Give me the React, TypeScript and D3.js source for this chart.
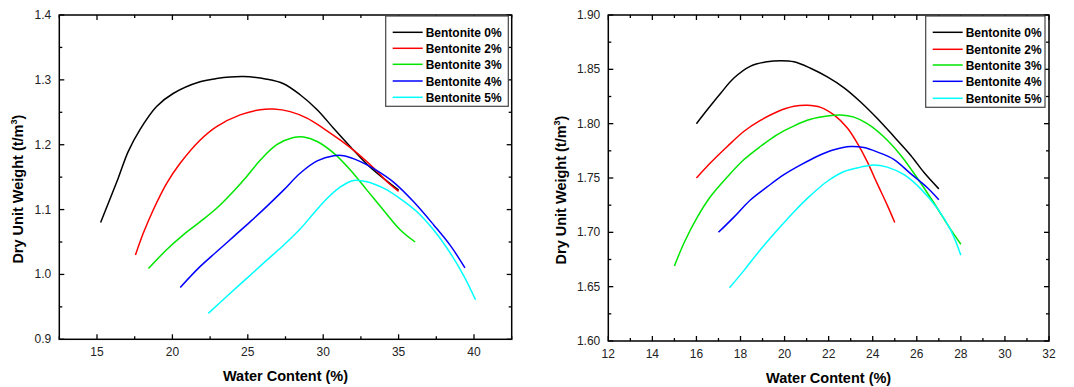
import * as d3 from "d3";
import React from "react";

const seriesNames = ["Bentonite 0%", "Bentonite 2%", "Bentonite 3%", "Bentonite 4%", "Bentonite 5%"];
const seriesColors = ["#000000", "#ff0000", "#00e600", "#0000ff", "#00ffff"];

// left panel: water content (%) / dry unit weight (t/m3)
const leftW0 = [15.24, 16.4, 17.06, 17.84, 18.95, 20.05, 21.83, 22.93, 24.7, 26.26, 27.37, 28.47, 29.6, 30.7, 31.8, 32.9, 34.0, 35.0];
const leftD0 = [1.080, 1.148, 1.189, 1.223, 1.259, 1.279, 1.297, 1.302, 1.305, 1.301, 1.294, 1.277, 1.254, 1.225, 1.197, 1.170, 1.148, 1.130];
const leftW2 = [17.55, 18.06, 18.72, 19.61, 20.5, 21.83, 22.93, 24.49, 25.82, 26.7, 27.81, 28.92, 30.03, 31.14, 32.25, 33.35, 34.24, 35.0];
const leftD2 = [1.030, 1.063, 1.099, 1.140, 1.171, 1.207, 1.228, 1.246, 1.254, 1.255, 1.251, 1.241, 1.225, 1.207, 1.187, 1.164, 1.143, 1.128];
const leftW3 = [18.41, 19.61, 20.72, 21.83, 22.93, 24.04, 24.93, 25.82, 26.92, 28.03, 28.7, 29.6, 30.7, 31.8, 32.9, 34.0, 35.1, 36.1];
const leftD3 = [1.009, 1.038, 1.061, 1.081, 1.102, 1.128, 1.151, 1.176, 1.200, 1.211, 1.212, 1.205, 1.187, 1.161, 1.130, 1.099, 1.069, 1.050];
const leftW4 = [20.52, 21.83, 22.93, 24.04, 25.15, 26.26, 27.37, 28.47, 29.6, 30.7, 31.36, 32.47, 33.57, 34.68, 36.0, 37.34, 38.45, 39.4];
const leftD4 = [0.980, 1.012, 1.035, 1.058, 1.081, 1.105, 1.130, 1.156, 1.175, 1.183, 1.183, 1.174, 1.160, 1.142, 1.112, 1.076, 1.044, 1.010];
const leftW5 = [22.38, 23.6, 24.93, 26.26, 27.37, 28.47, 29.36, 30.25, 31.14, 32.0, 32.9, 34.0, 35.1, 36.2, 37.34, 38.45, 39.34, 40.1];
const leftD5 = [0.940, 0.966, 0.994, 1.022, 1.045, 1.070, 1.094, 1.117, 1.135, 1.145, 1.143, 1.133, 1.117, 1.097, 1.068, 1.032, 0.997, 0.961];

// right panel
const rightW0 = [16.0, 16.5, 17.1, 17.7, 18.46, 19.2, 19.82, 20.43, 21.18, 21.94, 22.7, 23.45, 24.2, 24.97, 25.72, 26.33, 27.0];
const rightD0 = [1.800, 1.813, 1.828, 1.842, 1.853, 1.857, 1.858, 1.857, 1.851, 1.843, 1.833, 1.820, 1.805, 1.788, 1.771, 1.755, 1.740];
const rightW2 = [16.0, 16.64, 17.4, 18.16, 18.9, 19.67, 20.43, 21.03, 21.64, 22.24, 22.85, 23.3, 23.75, 24.2, 24.66, 25.0];
const rightD2 = [1.750, 1.764, 1.779, 1.793, 1.803, 1.811, 1.816, 1.817, 1.815, 1.808, 1.796, 1.782, 1.765, 1.745, 1.725, 1.709];
const rightW3 = [15.0, 15.43, 16.04, 16.64, 17.4, 18.16, 18.9, 19.67, 20.43, 21.18, 21.94, 22.55, 23.15, 23.75, 24.5, 25.27, 26.02, 26.78, 27.46, 28.0];
const rightD3 = [1.669, 1.690, 1.714, 1.733, 1.751, 1.767, 1.779, 1.790, 1.798, 1.804, 1.807, 1.808, 1.806, 1.800, 1.788, 1.771, 1.750, 1.727, 1.705, 1.689];
const rightW4 = [17.0, 17.7, 18.46, 19.22, 19.97, 20.73, 21.49, 22.24, 23.0, 23.6, 24.2, 24.97, 25.72, 26.48, 27.0];
const rightD4 = [1.700, 1.714, 1.730, 1.742, 1.753, 1.762, 1.770, 1.776, 1.779, 1.778, 1.774, 1.767, 1.754, 1.741, 1.730];
const rightW5 = [17.5, 18.16, 18.9, 19.67, 20.43, 21.18, 21.94, 22.7, 23.45, 24.05, 24.66, 25.42, 26.18, 26.93, 27.54, 28.0];
const rightD5 = [1.649, 1.665, 1.684, 1.702, 1.719, 1.734, 1.747, 1.756, 1.760, 1.762, 1.760, 1.753, 1.740, 1.722, 1.702, 1.679];

const leftXMajor = [15, 20, 25, 30, 35, 40];
const leftYMajor = [0.9, 1.0, 1.1, 1.2, 1.3, 1.4];
const rightXMajor = [12, 14, 16, 18, 20, 22, 24, 26, 28, 30, 32];
const rightYMajor = [1.6, 1.65, 1.7, 1.75, 1.8, 1.85, 1.9];

const font = "Arial, 'Liberation Sans', sans-serif";

interface PanelProps {
  left: number; right: number; top: number; bottom: number;
  xDomain: [number, number]; yDomain: [number, number];
  xMajor: number[]; xMinorStep: number; yMajor: number[]; yMinorStep: number;
  yFmt: (v: number) => string;
  xs: number[][]; ys: number[][];
  legendLeft: number; legendRight: number; legendRows: number[];
  yTitleX: number; yLabelGap: number; xTitleY: number;
}

function Panel(p: PanelProps) {
  const x = d3.scaleLinear().domain(p.xDomain).range([p.left, p.right]);
  const y = d3.scaleLinear().domain(p.yDomain).range([p.bottom, p.top]);
  const xMinor = d3.range(p.xDomain[0], p.xDomain[1] + 1e-9, p.xMinorStep)
    .filter(v => !p.xMajor.some(m => Math.abs(m - v) < 1e-6));
  const yMinor = d3.range(p.yDomain[0], p.yDomain[1] + 1e-9, p.yMinorStep)
    .filter(v => !p.yMajor.some(m => Math.abs(m - v) < 1e-6));
  const line = d3.line<[number, number]>().curve(d3.curveCatmullRom).x(d => x(d[0])).y(d => y(d[1]));
  const maj = 5, min = 3;
  const cy = (p.top + p.bottom) / 2 + 12;
  return (
    <g>
      {p.xs.map((xv, i) => (
        <path key={i} d={line(xv.map((v, j) => [v, p.ys[i][j]] as [number, number])) || ""}
          fill="none" stroke={seriesColors[i]} strokeWidth={1.5} />
      ))}
      <rect x={p.left} y={p.top} width={p.right - p.left} height={p.bottom - p.top}
        fill="none" stroke="#000" strokeWidth={1.5} />
      {p.xMajor.map(v => (
        <g key={"xm" + v}>
          <line x1={x(v)} x2={x(v)} y1={p.bottom} y2={p.bottom - maj} stroke="#000" strokeWidth={1.3} />
          <line x1={x(v)} x2={x(v)} y1={p.top} y2={p.top + maj} stroke="#000" strokeWidth={1.3} />
          <text x={x(v)} y={p.bottom + 17} textAnchor="middle" fontSize={12} fontFamily={font} fill="#222">{v}</text>
        </g>
      ))}
      {xMinor.map(v => (
        <g key={"xn" + v}>
          <line x1={x(v)} x2={x(v)} y1={p.bottom} y2={p.bottom - min} stroke="#000" strokeWidth={1.3} />
          <line x1={x(v)} x2={x(v)} y1={p.top} y2={p.top + min} stroke="#000" strokeWidth={1.3} />
        </g>
      ))}
      {p.yMajor.map(v => (
        <g key={"ym" + v}>
          <line x1={p.left} x2={p.left + maj} y1={y(v)} y2={y(v)} stroke="#000" strokeWidth={1.3} />
          <line x1={p.right} x2={p.right - maj} y1={y(v)} y2={y(v)} stroke="#000" strokeWidth={1.3} />
          <text x={p.left - p.yLabelGap} y={y(v) + 4} textAnchor="end" fontSize={12} fontFamily={font} fill="#222">{p.yFmt(v)}</text>
        </g>
      ))}
      {yMinor.map(v => (
        <g key={"yn" + v}>
          <line x1={p.left} x2={p.left + min} y1={y(v)} y2={y(v)} stroke="#000" strokeWidth={1.3} />
          <line x1={p.right} x2={p.right - min} y1={y(v)} y2={y(v)} stroke="#000" strokeWidth={1.3} />
        </g>
      ))}
      <text x={(p.left + p.right) / 2} y={p.xTitleY} textAnchor="middle" fontSize={14.5} fontWeight="bold" fontFamily={font}>
        Water Content (%)
      </text>
      <text transform={`translate(${p.yTitleX},${cy}) rotate(-90)`} textAnchor="middle" dy="0.35em"
        fontSize={14.5} fontWeight="bold" fontFamily={font}>
        Dry Unit Weight (t/m<tspan dy="-6" fontSize={9}>3</tspan><tspan dy="6">)</tspan>
      </text>
      <rect x={p.legendLeft} y={p.top + 1} width={p.legendRight - p.legendLeft} height={p.legendRows[4] - p.top + 8}
        fill="#fff" stroke="#444" strokeWidth={1.2} />
      {seriesNames.map((n, i) => (
        <g key={n}>
          <line x1={p.legendLeft + 7} x2={p.legendLeft + 37} y1={p.legendRows[i]} y2={p.legendRows[i]}
            stroke={seriesColors[i]} strokeWidth={1.5} />
          <text x={p.legendLeft + 40} y={p.legendRows[i] + 4.5} fontSize={12} fontWeight="bold" fontFamily={font}>{n}</text>
        </g>
      ))}
    </g>
  );
}

export default function App() {
  return (
    <div style={{ position: "fixed", left: 0, top: 0 }}>
      <svg width={1074} height={387} viewBox="0 0 1074 387" style={{ display: "block", background: "#fff" }}>
        <Panel left={59.3} right={511.7} top={15} bottom={339.3}
          xDomain={[12.5, 42.5]} yDomain={[0.9, 1.4]}
          xMajor={leftXMajor} xMinorStep={2.5} yMajor={leftYMajor} yMinorStep={0.05}
          yFmt={d3.format(".1f")}
          xs={[leftW0, leftW2, leftW3, leftW4, leftW5]} ys={[leftD0, leftD2, leftD3, leftD4, leftD5]}
          legendLeft={385.7} legendRight={508.3} legendRows={[32.3, 48.3, 64.3, 81, 97.3]}
          yTitleX={18} yLabelGap={8} xTitleY={381} />
        <Panel left={608.3} right={1049} top={15} bottom={341}
          xDomain={[12, 32]} yDomain={[1.6, 1.9]}
          xMajor={rightXMajor} xMinorStep={1} yMajor={rightYMajor} yMinorStep={0.025}
          yFmt={d3.format(".2f")}
          xs={[rightW0, rightW2, rightW3, rightW4, rightW5]} ys={[rightD0, rightD2, rightD3, rightD4, rightD5]}
          legendLeft={925.7} legendRight={1045} legendRows={[32.3, 49.3, 65, 81.3, 98.3]}
          yTitleX={560.7} yLabelGap={8} xTitleY={383} />
      </svg>
    </div>
  );
}
